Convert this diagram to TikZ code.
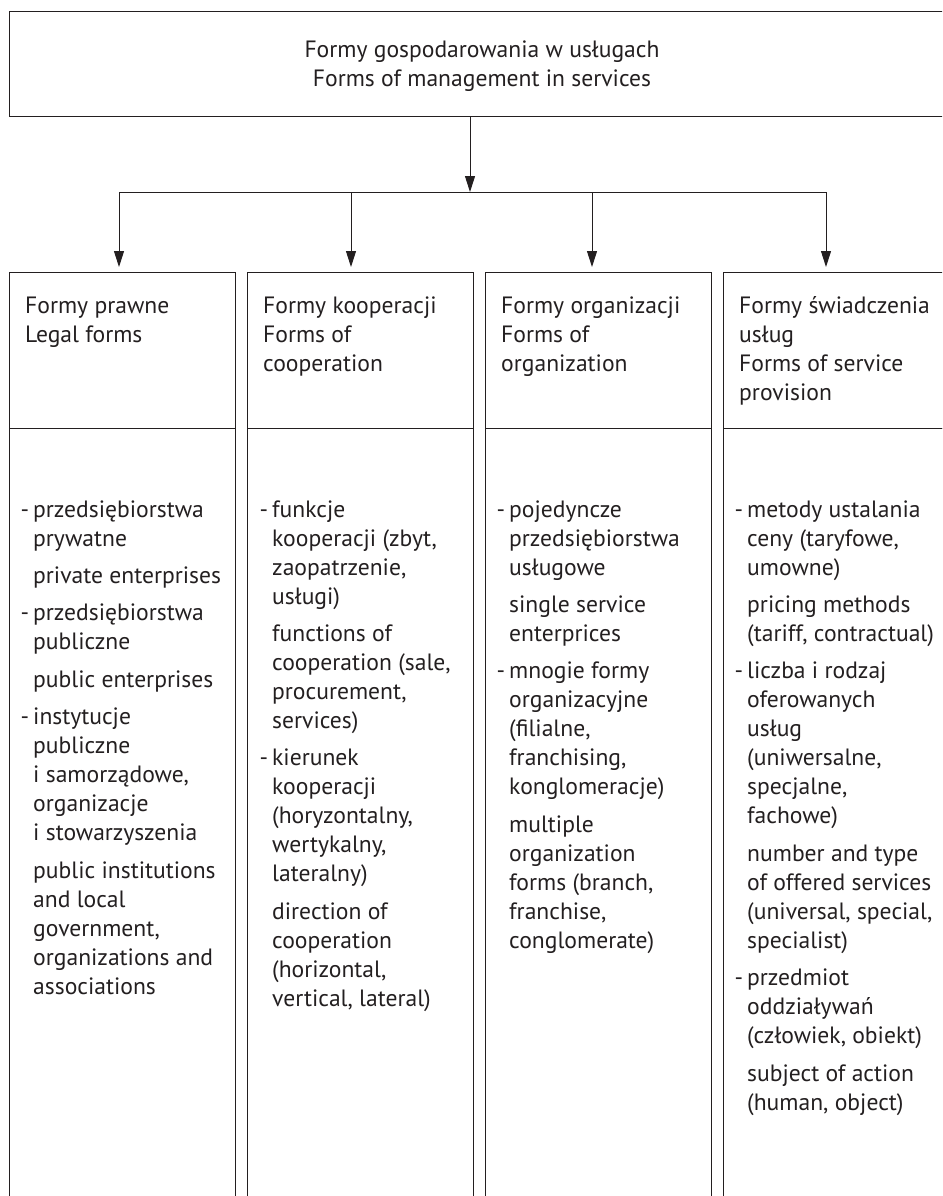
\documentclass[tikz,border=0pt]{standalone}
\usepackage{fontspec}
\setmainfont{PT Sans}
\usetikzlibrary{arrows.meta}
\definecolor{ink}{HTML}{231F20}
\newcommand\dl{\llap{-\hspace{4pt}}}
\newcommand\gp{\\[8.4pt]}
\begin{document}
\begin{tikzpicture}[x=1pt,y=-1pt,
  box/.style={draw=ink, line width=1pt, rectangle, inner sep=0pt, anchor=north west},
  txt/.style={font=\fontsize{23.6}{29}\selectfont, text=ink, inner sep=0pt, anchor=base west},
  conn/.style={draw=ink, line width=1pt},
  arr/.style={conn, -{Triangle[length=16pt,width=10pt]}}]
\useasboundingbox (0,0) rectangle (942,1196);
\clip (0,0) rectangle (942,1196);
% top box
\node[box, minimum width=946pt, minimum height=105pt] (top) at (9,11) {};
\node[txt, anchor=base] (toptext) at (482,58) {\begin{tabular}[t]{@{}c@{}}Formy gospodarowania w usługach\\Forms of management in services\end{tabular}};
% header boxes
\node[box, minimum width=226pt, minimum height=156pt] (h1) at (9,272) {};
\node[box, minimum width=226pt, minimum height=156pt] (h2) at (247,272) {};
\node[box, minimum width=226pt, minimum height=156pt] (h3) at (485,272) {};
\node[box, minimum width=240pt, minimum height=156pt] (h4) at (723,272) {};
% body boxes
\node[box, minimum width=226pt, minimum height=800pt] (b1) at (9,428) {};
\node[box, minimum width=226pt, minimum height=800pt] (b2) at (247,428) {};
\node[box, minimum width=226pt, minimum height=800pt] (b3) at (485,428) {};
\node[box, minimum width=240pt, minimum height=800pt] (b4) at (723,428) {};
% header texts
\node[txt] (ht1) at (25,313) {\begin{tabular}[t]{@{}l@{}}Formy prawne\\Legal forms\end{tabular}};
\node[txt] (ht2) at (263,313) {\begin{tabular}[t]{@{}l@{}}Formy kooperacji\\Forms of\\cooperation\end{tabular}};
\node[txt] (ht3) at (501,313) {\begin{tabular}[t]{@{}l@{}}Formy organizacji\\Forms of\\organization\end{tabular}};
\node[txt] (ht4) at (739,313) {\begin{tabular}[t]{@{}l@{}}Formy świadczenia\\usług\\Forms of service\\provision\end{tabular}};
% body texts
\node[txt] (bt1) at (33,517) {\begin{tabular}[t]{@{}l@{}}\dl przedsiębiorstwa\\prywatne\gp private enterprises\gp \dl przedsiębiorstwa\\publiczne\gp public enterprises\gp \dl instytucje\\publiczne\\i samorządowe,\\organizacje\\i stowarzyszenia\gp public institutions\\and local\\government,\\organizations and\\associations\end{tabular}};
\node[txt] (bt2) at (272,517) {\begin{tabular}[t]{@{}l@{}}\dl funkcje\\kooperacji (zbyt,\\zaopatrzenie,\\usługi)\gp functions of\\cooperation (sale,\\procurement,\\services)\gp \dl kierunek\\kooperacji\\(horyzontalny,\\wertykalny,\\lateralny)\gp direction of\\cooperation\\(horizontal,\\vertical, lateral)\end{tabular}};
\node[txt] (bt3) at (509,517) {\begin{tabular}[t]{@{}l@{}}\dl pojedyncze\\przedsiębiorstwa\\usługowe\gp single service\\enterprices\gp \dl mnogie formy\\organizacyjne\\(filialne,\\franchising,\\konglomeracje)\gp multiple\\organization\\forms (branch,\\franchise,\\conglomerate)\end{tabular}};
\node[txt] (bt4) at (747,517) {\begin{tabular}[t]{@{}l@{}}\dl metody ustalania\\ceny (taryfowe,\\umowne)\gp pricing methods\\(tariff, contractual)\gp \dl liczba i rodzaj\\oferowanych\\usług\\(uniwersalne,\\specjalne,\\fachowe)\gp number and type\\of offered services\\(universal, special,\\specialist)\gp \dl przedmiot\\oddziaływań\\(człowiek, obiekt)\gp subject of action\\(human, object)\end{tabular}};
% connectors
\coordinate (j) at (470,192);
\coordinate (l1) at (119,192);
\coordinate (l2) at (351,192);
\coordinate (l3) at (592,192);
\coordinate (l4) at (826,192);
\draw[arr] (top.south -| j) -- (j);
\draw[conn] (l1) -- (l4);
\draw[arr, shorten >=5pt] (l1) -- (l1 |- h1.north);
\draw[arr, shorten >=5pt] (l2) -- (l2 |- h2.north);
\draw[arr, shorten >=5pt] (l3) -- (l3 |- h3.north);
\draw[arr, shorten >=5pt] (l4) -- (l4 |- h4.north);
\end{tikzpicture}
\end{document}
